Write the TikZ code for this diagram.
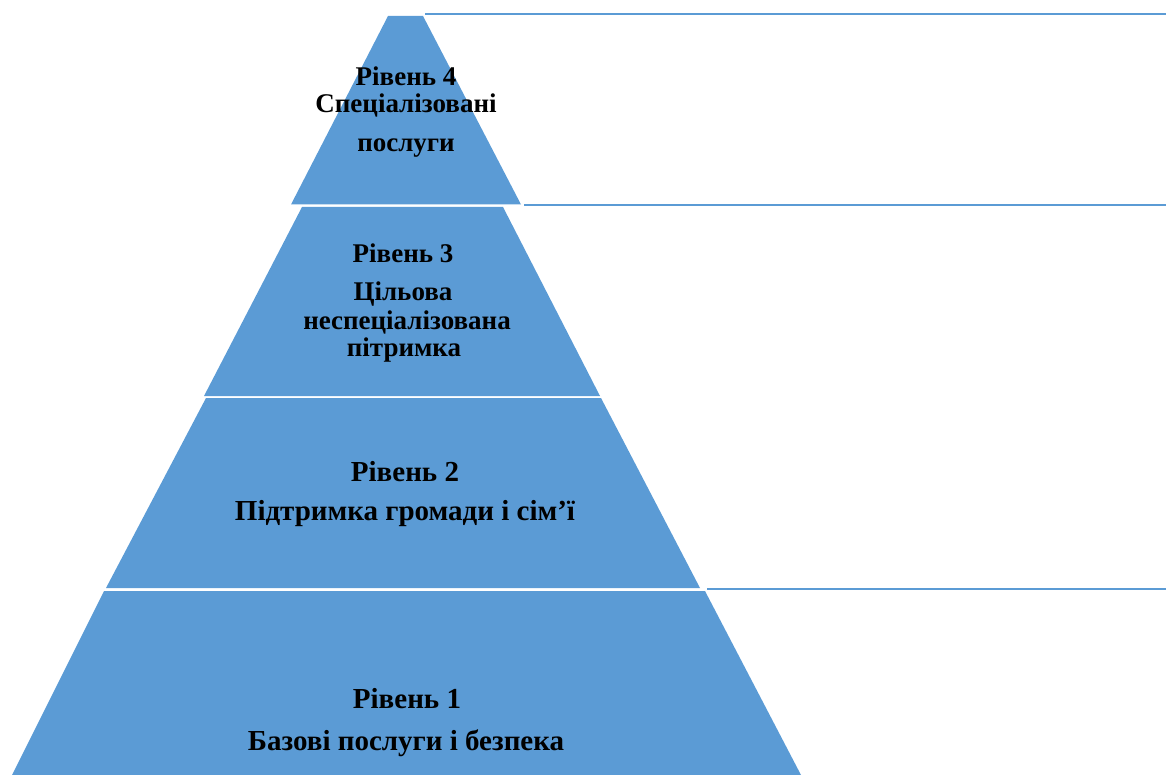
\documentclass[tikz,border=0pt]{standalone}
\usepackage{fontspec}
\setmainfont{Liberation Serif}
\begin{document}
\begin{tikzpicture}[x=1pt,y=-1pt,
  seg/.style={fill=segblue},
  rule/.style={draw=segblue,line width=2pt},
  lblA/.style={anchor=base,inner sep=0pt,font=\bfseries\fontsize{27}{27}\selectfont},
  lblB/.style={anchor=base,inner sep=0pt,font=\bfseries\fontsize{29}{29}\selectfont}]
\definecolor{segblue}{HTML}{5B9BD5}
\useasboundingbox (0,0) rectangle (1166,775);
% segments
\fill[seg] (388,16) -- (423,16) -- (521,204.5) -- (291,204.5) -- cycle;
\fill[seg] (302,207) -- (503,207) -- (600,396) -- (204,396) -- cycle;
\fill[seg] (206,398) -- (601,398) -- (700,588) -- (106,588) -- cycle;
\fill[seg] (104,591) -- (705,591) -- (801,775) -- (12,775) -- cycle;
% rules
\coordinate (r1a) at (425,14);  \coordinate (r1b) at (1166,14);
\coordinate (r2a) at (524,205); \coordinate (r2b) at (1166,205);
\coordinate (r3a) at (707,589); \coordinate (r3b) at (1166,589);
\draw[rule] (r1a) -- (r1b);
\draw[rule] (r2a) -- (r2b);
\draw[rule] (r3a) -- (r3b);
% level 4
\node[lblA] (l4a) at (406,86) {Рівень 4};
\node[lblA] (l4b) at (406,113) {Спеціалізовані};
\node[lblA] (l4c) at (406,152) {послуги};
% level 3
\node[lblA] (l3a) at (403,263) {Рівень 3};
\node[lblA] (l3b) at (403,301) {Цільова};
\node[lblA] (l3c) at (407,329) {неспеціалізована};
\node[lblA] (l3d) at (404,356) {пітримка};
% level 2
\node[lblB] (l2a) at (405,481) {Рівень 2};
\node[lblB] (l2b) at (405,520) {Підтримка громади і сім’ї};
% level 1
\node[lblB] (l1a) at (407,708) {Рівень 1};
\node[lblB] (l1b) at (406,750) {Базові послуги і безпека};
\end{tikzpicture}
\end{document}
